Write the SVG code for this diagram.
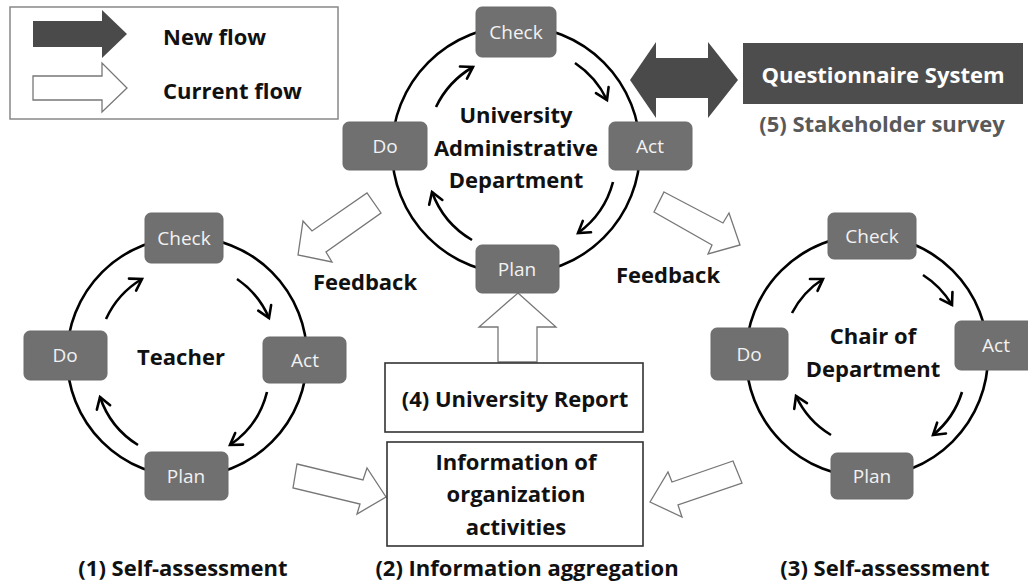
<svg xmlns="http://www.w3.org/2000/svg" width="1028" height="584" viewBox="0 0 1028 584">
<style>
text{font-family:"Open Sans","Liberation Sans",sans-serif}
.lbl{font-size:22px;font-weight:bold;fill:#111;text-anchor:middle}
.box{fill:#707070;stroke:#6a6a6a;stroke-width:1}
.bt{font-size:19px;fill:#f2f2f2;text-anchor:middle}
.ring{fill:none;stroke:#000;stroke-width:2.6}
.cyc{fill:none;stroke:#000;stroke-width:2.6;marker-end:url(#chev)}
.cur{fill:#fff;stroke:#777;stroke-width:1.3;stroke-linejoin:miter}
.newf{fill:#4a4a4a}
.frame{fill:#fff;stroke:#333;stroke-width:1.6}
</style>
<defs>
<marker id="chev" markerUnits="userSpaceOnUse" markerWidth="20" markerHeight="20" refX="0" refY="0" viewBox="-14 -10 16 20" orient="auto" overflow="visible">
<path d="M -11 -7 L 0 0 L -11 7" fill="none" stroke="#000" stroke-width="2.6" stroke-linecap="round" stroke-linejoin="miter"/>
</marker>
</defs>
<rect width="1028" height="584" fill="#fff"/>

<g id="legend">
<rect x="10" y="7" width="328" height="112" fill="#fff" stroke="#888" stroke-width="1.5"/>
<polygon class="newf" points="33,21 102,21 102,10 127,34 102,58 102,47 33,47"/>
<polygon class="cur" points="33,76 102,76 102,63 127,88 102,112 102,100 33,100"/>
<text x="163" y="45" font-size="22" font-weight="bold" fill="#111">New flow</text>
<text x="163" y="99" font-size="22" font-weight="bold" fill="#111">Current flow</text>
</g>

<g id="connectors">
<circle class="ring" cx="516" cy="150" r="124"/>
<circle class="ring" cx="187" cy="357" r="120"/>
<circle class="ring" cx="867" cy="356" r="121"/>
<!-- top cycle arrows -->
<path class="cyc" d="M436,107 A92,92 0 0 1 473,67"/>
<path class="cyc" d="M575,63 A92,92 0 0 1 607,100"/>
<path class="cyc" d="M613,182 A92,92 0 0 1 578,233"/>
<path class="cyc" d="M472,240 A92,92 0 0 1 432,192"/>
<!-- left cycle arrows -->
<path class="cyc" d="M106,319 A90,90 0 0 1 142,279"/>
<path class="cyc" d="M237,279 A90,90 0 0 1 269,318"/>
<path class="cyc" d="M267,392 A90,90 0 0 1 230,445"/>
<path class="cyc" d="M138,445 A90,90 0 0 1 100,397"/>
<!-- right cycle arrows -->
<path class="cyc" d="M792,313 A89,89 0 0 1 823,279"/>
<path class="cyc" d="M923,275 A89,89 0 0 1 952,305"/>
<path class="cyc" d="M962,392 A89,89 0 0 1 933,435"/>
<path class="cyc" d="M831,435 A89,89 0 0 1 796,396"/>
<!-- flow arrows -->
<polygon class="cur" points="298,255 303,221 312,231 367,193 381,213 326,252 332,262"/>
<polygon class="cur" points="664,192 723,223 729,213 740,245 708,254 712,245 654,212"/>
<polygon class="cur" points="297,464 363,480 367,468 386,497 357,514 360,504 293,488"/>
<polygon class="cur" points="650,502 668,472 672,482 733,461 742,483 678,505 682,517"/>
<polygon class="cur" points="518,293 556,327 537,327 537,362 498,362 498,327 479,327"/>
<polygon class="newf" points="630,80 656,42 656,58 708,58 708,42 738,80 708,118 708,98 656,98 656,118"/>
</g>

<g id="top-cycle">
<text class="lbl" x="516" y="123">University</text>
<text class="lbl" x="516" y="156">Administrative</text>
<text class="lbl" x="516" y="188">Department</text>
</g>
<g id="top-check"><rect class="box" x="476" y="7" width="80" height="50" rx="6"/><text class="bt" x="516" y="38.5">Check</text></g>
<g id="top-do"><rect class="box" x="343" y="122" width="84" height="48" rx="6"/><text class="bt" x="385" y="152.5">Do</text></g>
<g id="top-act"><rect class="box" x="609" y="122" width="83" height="48" rx="6"/><text class="bt" x="650" y="152.5">Act</text></g>
<g id="top-plan"><rect class="box" x="476" y="245" width="83" height="48" rx="6"/><text class="bt" x="517" y="275.5">Plan</text></g>

<g id="left-cycle"><text class="lbl" x="181" y="365">Teacher</text></g>
<g id="left-check"><rect class="box" x="145" y="213" width="78" height="50" rx="6"/><text class="bt" x="184" y="244.5">Check</text></g>
<g id="left-do"><rect class="box" x="24" y="331" width="83" height="49" rx="6"/><text class="bt" x="65" y="362">Do</text></g>
<g id="left-act"><rect class="box" x="263" y="337" width="83" height="46" rx="6"/><text class="bt" x="305" y="366.5">Act</text></g>
<g id="left-plan"><rect class="box" x="145" y="452" width="83" height="48" rx="6"/><text class="bt" x="186" y="482.5">Plan</text></g>

<g id="right-cycle">
<text class="lbl" x="873" y="344">Chair of</text>
<text class="lbl" x="873" y="377">Department</text>
</g>
<g id="right-check"><rect class="box" x="828" y="213" width="88" height="46" rx="6"/><text class="bt" x="872" y="242.5">Check</text></g>
<g id="right-do"><rect class="box" x="711" y="328" width="77" height="52" rx="6"/><text class="bt" x="749" y="360.5">Do</text></g>
<g id="right-act"><rect class="box" x="955" y="321" width="82" height="49" rx="6"/><text class="bt" x="996" y="352">Act</text></g>
<g id="right-plan"><rect class="box" x="831" y="453" width="82" height="46" rx="6"/><text class="bt" x="872" y="482.5">Plan</text></g>

<g id="questionnaire">
<rect x="743" y="43" width="280" height="61" fill="#4d4d4d"/>
<text class="lbl" x="883" y="83" style="fill:#fff">Questionnaire System</text>
<text class="lbl" x="882" y="132" style="fill:#595959">(5) Stakeholder survey</text>
</g>

<g id="feedback-labels">
<text class="lbl" x="365" y="290">Feedback</text>
<text class="lbl" x="668" y="283">Feedback</text>
</g>

<g id="report">
<rect class="frame" x="385" y="363" width="258" height="69"/>
<text class="lbl" x="515" y="407">(4) University Report</text>
</g>

<g id="info">
<rect class="frame" x="387" y="442" width="256" height="104"/>
<text class="lbl" x="516" y="470">Information of</text>
<text class="lbl" x="516" y="502">organization</text>
<text class="lbl" x="516" y="535">activities</text>
</g>

<g id="captions">
<text class="lbl" x="183" y="576">(1) Self-assessment</text>
<text class="lbl" x="527" y="576">(2) Information aggregation</text>
<text class="lbl" x="885" y="576">(3) Self-assessment</text>
</g>
</svg>
